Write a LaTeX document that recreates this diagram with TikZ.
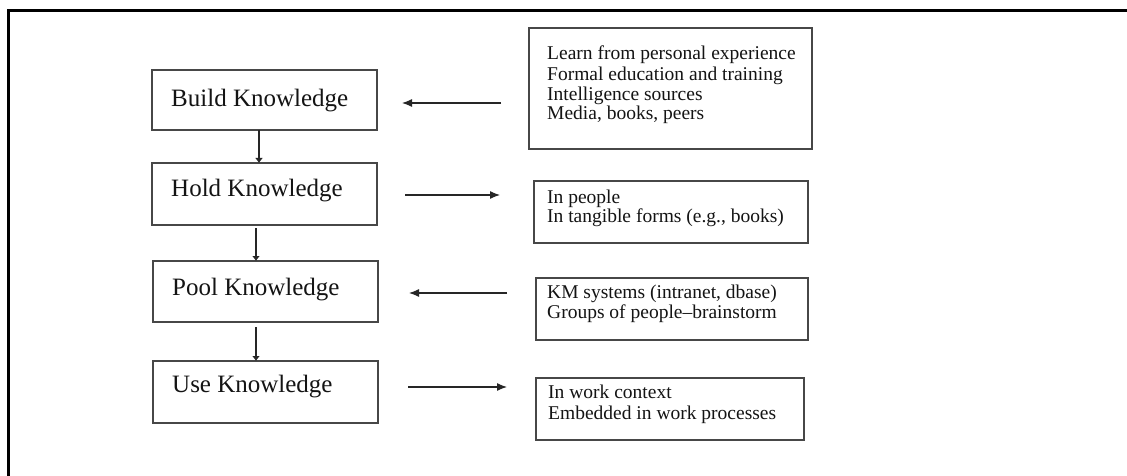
\documentclass[tikz,border=0pt]{standalone}
\usepackage{fontspec}
\setmainfont{Liberation Serif}
\usetikzlibrary{arrows.meta}

\tikzset{
  kbox/.style={draw=black!72, line width=1.4pt, inner sep=0pt, outer sep=0pt, anchor=north west},
  stagetext/.style={anchor=base west, inner sep=0pt, text=black!92, font=\fontsize{25}{30}\selectfont},
  notetext/.style={anchor=base west, inner sep=0pt, text=black!92, font=\fontsize{19.5}{20}\selectfont},
  flow/.style={draw=black!85, line width=1.2pt, -{Latex[length=5pt,width=8pt]}},
  side/.style={draw=black!85, line width=1.2pt, -{Latex[length=10pt,width=8pt]}},
}

\begin{document}
\begin{tikzpicture}[x=1pt,y=-1pt]
  \clip (0,0) rectangle (1127,476);
  \fill[white] (0,0) rectangle (1127,476);

  % open frame: left and top rules only
  \draw[line width=3pt, black] (8.5,490) -- (8.5,10.5) -- (1140,10.5);

  % the four stages
  \node[kbox, minimum width=225pt, minimum height=60pt] (build) at (152,70) {};
  \node[kbox, minimum width=225pt, minimum height=62pt] (hold)  at (152,163) {};
  \node[kbox, minimum width=225pt, minimum height=61pt] (pool)  at (153,261) {};
  \node[kbox, minimum width=225pt, minimum height=62pt] (use)   at (153,361) {};

  \node[stagetext] (buildT) at (171,107) {Build Knowledge};
  \node[stagetext] (holdT)  at (171,196) {Hold Knowledge};
  \node[stagetext] (poolT)  at (172,295) {Pool Knowledge};
  \node[stagetext] (useT)   at (172,392) {Use Knowledge};

  % notes beside each stage
  \node[kbox, minimum width=283pt, minimum height=121pt] (src)  at (529,28) {};
  \node[kbox, minimum width=274pt, minimum height=62pt]  (where) at (534,181) {};
  \node[kbox, minimum width=272pt, minimum height=62pt]  (how)  at (536,278) {};
  \node[kbox, minimum width=268pt, minimum height=62pt]  (ctx)  at (536,378) {};

  \node[notetext] (srcA) at (547,60)  {Learn from personal experience};
  \node[notetext] (srcB) at (547,81)  {Formal education and training};
  \node[notetext] (srcC) at (547,101) {Intelligence sources};
  \node[notetext] (srcD) at (547,120) {Media, books, peers};

  \node[notetext] (whereA) at (547,203) {In people};
  \node[notetext] (whereB) at (547,222) {In tangible forms (e.g., books)};

  \node[notetext] (howA) at (547,298) {KM systems (intranet, dbase)};
  \node[notetext] (howB) at (547,318) {Groups of people–brainstorm};

  \node[notetext] (ctxA) at (548,398) {In work context};
  \node[notetext] (ctxB) at (548,419) {Embedded in work processes};

  % stage sequence
  \draw[flow] ([xshift=-5.5pt]build.south) -- ([xshift=-5.5pt]hold.north);
  \draw[flow] ([xshift=-8.5pt,yshift=-3pt]hold.south) -- ([xshift=-9.5pt]pool.north);
  \draw[flow] ([xshift=-9.5pt,yshift=-5pt]pool.south) -- ([xshift=-9.5pt]use.north);

  % side arrows between stages and notes
  \coordinate (s1a) at (501,103); \coordinate (s1b) at (402,103);
  \coordinate (s2a) at (405,195); \coordinate (s2b) at (500,195);
  \coordinate (s3a) at (507,293); \coordinate (s3b) at (409,293);
  \coordinate (s4a) at (408,387); \coordinate (s4b) at (507,387);
  \draw[side] (s1a) -- (s1b);
  \draw[side] (s2a) -- (s2b);
  \draw[side] (s3a) -- (s3b);
  \draw[side] (s4a) -- (s4b);
\end{tikzpicture}
\end{document}
